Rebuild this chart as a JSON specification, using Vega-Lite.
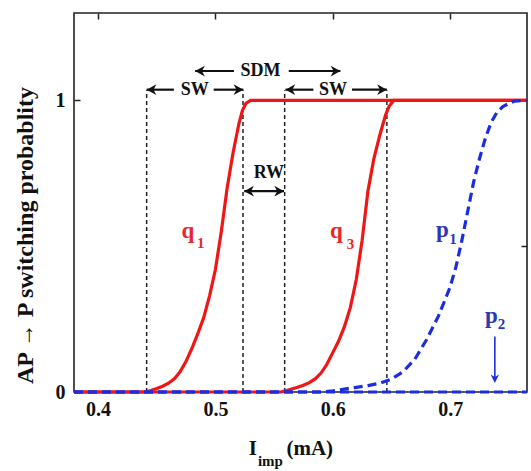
{
  "$schema": "https://vega.github.io/schema/vega-lite/v6.json",
  "width": 453,
  "height": 379,
  "autosize": {"type": "none"},
  "padding": {"left": 74, "top": 13, "right": 4, "bottom": 79},
  "background": "white",
  "config": {
    "view": {"stroke": "#222", "strokeWidth": 1.6},
    "font": "Liberation Serif"
  },
  "datasets": {
    "curves": [
      {"s": "q1", "x": 0.3795, "y": 0}, {"s": "q1", "x": 0.44, "y": 0}, {"s": "q1", "x": 0.445, "y": 0.005}, {"s": "q1", "x": 0.45, "y": 0.012}, {"s": "q1", "x": 0.455, "y": 0.02}, {"s": "q1", "x": 0.46, "y": 0.03}, {"s": "q1", "x": 0.465, "y": 0.045}, {"s": "q1", "x": 0.47, "y": 0.07}, {"s": "q1", "x": 0.475, "y": 0.105}, {"s": "q1", "x": 0.48, "y": 0.15}, {"s": "q1", "x": 0.485, "y": 0.2}, {"s": "q1", "x": 0.49, "y": 0.255}, {"s": "q1", "x": 0.495, "y": 0.33}, {"s": "q1", "x": 0.5, "y": 0.42}, {"s": "q1", "x": 0.505, "y": 0.55}, {"s": "q1", "x": 0.51, "y": 0.7}, {"s": "q1", "x": 0.515, "y": 0.82}, {"s": "q1", "x": 0.52, "y": 0.92}, {"s": "q1", "x": 0.523, "y": 0.965}, {"s": "q1", "x": 0.526, "y": 0.99}, {"s": "q1", "x": 0.53, "y": 1.0}, {"s": "q1", "x": 0.7655, "y": 1.0},
      {"s": "q3", "x": 0.3795, "y": 0}, {"s": "q3", "x": 0.556, "y": 0}, {"s": "q3", "x": 0.56, "y": 0.004}, {"s": "q3", "x": 0.565, "y": 0.01}, {"s": "q3", "x": 0.57, "y": 0.016}, {"s": "q3", "x": 0.575, "y": 0.023}, {"s": "q3", "x": 0.58, "y": 0.032}, {"s": "q3", "x": 0.585, "y": 0.045}, {"s": "q3", "x": 0.59, "y": 0.065}, {"s": "q3", "x": 0.595, "y": 0.095}, {"s": "q3", "x": 0.6, "y": 0.135}, {"s": "q3", "x": 0.605, "y": 0.175}, {"s": "q3", "x": 0.61, "y": 0.225}, {"s": "q3", "x": 0.615, "y": 0.29}, {"s": "q3", "x": 0.62, "y": 0.385}, {"s": "q3", "x": 0.625, "y": 0.52}, {"s": "q3", "x": 0.63, "y": 0.69}, {"s": "q3", "x": 0.635, "y": 0.8}, {"s": "q3", "x": 0.64, "y": 0.88}, {"s": "q3", "x": 0.645, "y": 0.95}, {"s": "q3", "x": 0.648, "y": 0.98}, {"s": "q3", "x": 0.652, "y": 1.0}, {"s": "q3", "x": 0.7655, "y": 1.0},
      {"s": "p1", "x": 0.3795, "y": 0}, {"s": "p1", "x": 0.59, "y": 0}, {"s": "p1", "x": 0.6, "y": 0.004}, {"s": "p1", "x": 0.61, "y": 0.01}, {"s": "p1", "x": 0.62, "y": 0.016}, {"s": "p1", "x": 0.63, "y": 0.022}, {"s": "p1", "x": 0.64, "y": 0.03}, {"s": "p1", "x": 0.65, "y": 0.044}, {"s": "p1", "x": 0.66, "y": 0.07}, {"s": "p1", "x": 0.67, "y": 0.113}, {"s": "p1", "x": 0.68, "y": 0.18}, {"s": "p1", "x": 0.69, "y": 0.26}, {"s": "p1", "x": 0.7, "y": 0.36}, {"s": "p1", "x": 0.705, "y": 0.43}, {"s": "p1", "x": 0.71, "y": 0.52}, {"s": "p1", "x": 0.715, "y": 0.62}, {"s": "p1", "x": 0.72, "y": 0.72}, {"s": "p1", "x": 0.725, "y": 0.8}, {"s": "p1", "x": 0.73, "y": 0.87}, {"s": "p1", "x": 0.735, "y": 0.925}, {"s": "p1", "x": 0.74, "y": 0.96}, {"s": "p1", "x": 0.745, "y": 0.979}, {"s": "p1", "x": 0.75, "y": 0.99}, {"s": "p1", "x": 0.755, "y": 0.998}, {"s": "p1", "x": 0.7655, "y": 1.0},
      {"s": "p2", "x": 0.3795, "y": 0}, {"s": "p2", "x": 0.7655, "y": 0}
    ],
    "vlines": [
      {"x": 0.4414, "y": 0, "y2": 1.035},
      {"x": 0.5235, "y": 0, "y2": 1.035},
      {"x": 0.559, "y": 0, "y2": 1.035},
      {"x": 0.6461, "y": 0, "y2": 1.035}
    ],
    "shafts": [
      {"x": 0.4414, "x2": 0.4646, "y": 1.037},
      {"x": 0.4985, "x2": 0.5238, "y": 1.037},
      {"x": 0.5597, "x2": 0.5835, "y": 1.037},
      {"x": 0.6164, "x2": 0.6461, "y": 1.037},
      {"x": 0.4827, "x2": 0.5158, "y": 1.101},
      {"x": 0.5625, "x2": 0.6065, "y": 1.101},
      {"x": 0.5245, "x2": 0.5585, "y": 0.689}
    ],
    "heads": [
      {"x": 0.4414, "y": 1.037, "d": "L"},
      {"x": 0.5238, "y": 1.037, "d": "R"},
      {"x": 0.5597, "y": 1.037, "d": "L"},
      {"x": 0.6461, "y": 1.037, "d": "R"},
      {"x": 0.4827, "y": 1.101, "d": "L"},
      {"x": 0.6065, "y": 1.101, "d": "R"},
      {"x": 0.5245, "y": 0.689, "d": "L"},
      {"x": 0.5585, "y": 0.689, "d": "R"}
    ],
    "annot": [
      {"t": "SW", "x": 0.4824, "y": 1.037},
      {"t": "SW", "x": 0.6001, "y": 1.037},
      {"t": "SDM", "x": 0.5385, "y": 1.101},
      {"t": "RW", "x": 0.5455, "y": 0.752}
    ],
    "letters": [
      {"t": "q", "x": 0.4765, "y": 0.552, "c": "red"},
      {"t": "q", "x": 0.603, "y": 0.552, "c": "red"},
      {"t": "p", "x": 0.6935, "y": 0.556, "c": "blue"},
      {"t": "p", "x": 0.7352, "y": 0.26, "c": "blue"}
    ],
    "subs": [
      {"t": "1", "x": 0.4875, "y": 0.511, "c": "red"},
      {"t": "3", "x": 0.615, "y": 0.508, "c": "red"},
      {"t": "1", "x": 0.7025, "y": 0.525, "c": "blue"},
      {"t": "2", "x": 0.7438, "y": 0.234, "c": "blue"}
    ],
    "p2arrow": [{"x": 0.7381, "y": 0.19, "y2": 0.04}],
    "p2head": [{"x": 0.7381, "y": 0.031}],
    "xtitle": [
      {"t": "I", "x": 0.5283, "y": -0.215, "sz": 21},
      {"t": "imp", "x": 0.5362, "y": -0.255, "sz": 15},
      {"t": "(mA)", "x": 0.5605, "y": -0.215, "sz": 21}
    ]
  },
  "layer": [
    {
      "data": {"name": "vlines"},
      "mark": {"type": "rule", "color": "#222", "strokeWidth": 1.5, "strokeDash": [4, 3]},
      "encoding": {
        "x": {"field": "x", "type": "quantitative", "scale": {"domain": [0.3795, 0.7655], "nice": false, "zero": false},
          "axis": {"values": [0.4, 0.5, 0.6, 0.7], "format": ".1f", "title": null, "grid": false, "domain": false, "ticks": false, "labelFont": "Liberation Serif", "labelFontWeight": "bold", "labelFontSize": 20, "labelColor": "#111", "labelPadding": 7}},
        "y": {"field": "y", "type": "quantitative", "scale": {"domain": [0, 1.3], "nice": false},
          "axis": {"values": [0, 1], "format": "d", "title": "AP → P  switching probablity", "titleFont": "Liberation Serif", "titleFontWeight": "bold", "titleFontSize": 24, "titleColor": "#111", "titleX": -49, "titleY": 222, "titleAngle": -90, "titleAlign": "center", "titleBaseline": "middle", "grid": false, "domain": false, "tickSize": -6, "tickColor": "#222", "tickWidth": 1.5, "labelFont": "Liberation Serif", "labelFontWeight": "bold", "labelFontSize": 20, "labelColor": "#111", "labelPadding": 15}},
        "y2": {"field": "y2"}
      }
    },
    {
      "data": {"name": "vlines"},
      "mark": {"type": "rule", "opacity": 0},
      "encoding": {
        "x": {"field": "x", "type": "quantitative", "axis": {"orient": "top", "values": [0.4, 0.5, 0.6, 0.7], "labels": false, "title": null, "grid": false, "domain": false, "tickSize": -6, "tickColor": "#222", "tickWidth": 1.5}},
        "y": {"field": "y", "type": "quantitative", "axis": {"orient": "right", "values": [0.5, 1], "labels": false, "title": null, "grid": false, "domain": false, "tickSize": -6, "tickColor": "#222", "tickWidth": 1.5}}
      }
    },
    {
      "data": {"name": "curves"},
      "transform": [{"filter": "datum.s === 'q1' || datum.s === 'q3'"}],
      "mark": {"type": "line", "strokeWidth": 3.2, "clip": false},
      "encoding": {
        "x": {"field": "x", "type": "quantitative", "axis": null},
        "y": {"field": "y", "type": "quantitative", "axis": null},
        "detail": {"field": "s"},
        "color": {"value": "#f01616"}
      }
    },
    {
      "data": {"name": "curves"},
      "transform": [{"filter": "datum.s === 'p1' || datum.s === 'p2'"}],
      "mark": {"type": "line", "strokeWidth": 3.2, "strokeDash": [9, 5], "clip": false},
      "encoding": {
        "x": {"field": "x", "type": "quantitative", "axis": null},
        "y": {"field": "y", "type": "quantitative", "axis": null},
        "detail": {"field": "s"},
        "color": {"value": "#1c2de0"}
      }
    },
    {
      "data": {"name": "shafts"},
      "mark": {"type": "rule", "color": "#111", "strokeWidth": 2.2},
      "encoding": {
        "x": {"field": "x", "type": "quantitative", "axis": null},
        "x2": {"field": "x2"},
        "y": {"field": "y", "type": "quantitative", "axis": null}
      }
    },
    {
      "data": {"name": "heads"},
      "mark": {"type": "point", "filled": true, "color": "#111", "opacity": 1, "size": 380},
      "encoding": {
        "x": {"field": "x", "type": "quantitative", "axis": null},
        "y": {"field": "y", "type": "quantitative", "axis": null},
        "shape": {"field": "d", "type": "nominal", "legend": null,
          "scale": {"domain": ["L", "R"], "range": ["M1,-0.55L0,0L1,0.55L0.7,0Z", "M-1,-0.55L0,0L-1,0.55L-0.7,0Z"]}}
      }
    },
    {
      "data": {"name": "annot"},
      "mark": {"type": "text", "font": "Liberation Serif", "fontWeight": "bold", "fontSize": 18, "color": "#111", "baseline": "middle", "align": "center"},
      "encoding": {
        "x": {"field": "x", "type": "quantitative", "axis": null},
        "y": {"field": "y", "type": "quantitative", "axis": null},
        "text": {"field": "t"}
      }
    },
    {
      "data": {"name": "letters"},
      "mark": {"type": "text", "font": "Liberation Serif", "fontWeight": "bold", "fontSize": 23, "baseline": "middle", "align": "center"},
      "encoding": {
        "x": {"field": "x", "type": "quantitative", "axis": null},
        "y": {"field": "y", "type": "quantitative", "axis": null},
        "text": {"field": "t"},
        "color": {"field": "c", "type": "nominal", "legend": null, "scale": {"domain": ["red", "blue"], "range": ["#e8262b", "#2b36b8"]}}
      }
    },
    {
      "data": {"name": "subs"},
      "mark": {"type": "text", "font": "Liberation Serif", "fontWeight": "bold", "fontSize": 15, "baseline": "middle", "align": "center"},
      "encoding": {
        "x": {"field": "x", "type": "quantitative", "axis": null},
        "y": {"field": "y", "type": "quantitative", "axis": null},
        "text": {"field": "t"},
        "color": {"field": "c", "type": "nominal", "legend": null, "scale": {"domain": ["red", "blue"], "range": ["#e8262b", "#2b36b8"]}}
      }
    },
    {
      "data": {"name": "p2arrow"},
      "mark": {"type": "rule", "color": "#1c2de0", "strokeWidth": 1.6},
      "encoding": {
        "x": {"field": "x", "type": "quantitative", "axis": null},
        "y": {"field": "y", "type": "quantitative", "axis": null},
        "y2": {"field": "y2"}
      }
    },
    {
      "data": {"name": "p2head"},
      "mark": {"type": "point", "filled": true, "color": "#1c2de0", "opacity": 1, "size": 280, "shape": "M-0.5,-1L0,0L0.5,-1L0,-0.7Z"},
      "encoding": {
        "x": {"field": "x", "type": "quantitative", "axis": null},
        "y": {"field": "y", "type": "quantitative", "axis": null}
      }
    },
    {
      "data": {"name": "xtitle"},
      "mark": {"type": "text", "font": "Liberation Serif", "fontWeight": "bold", "color": "#111", "baseline": "alphabetic", "align": "left", "clip": false},
      "encoding": {
        "x": {"field": "x", "type": "quantitative", "axis": null},
        "y": {"field": "y", "type": "quantitative", "axis": null},
        "text": {"field": "t"},
        "size": {"field": "sz", "type": "quantitative", "scale": null, "legend": null}
      }
    }
  ],
  "resolve": {"axis": {"x": "independent", "y": "independent"}}
}
